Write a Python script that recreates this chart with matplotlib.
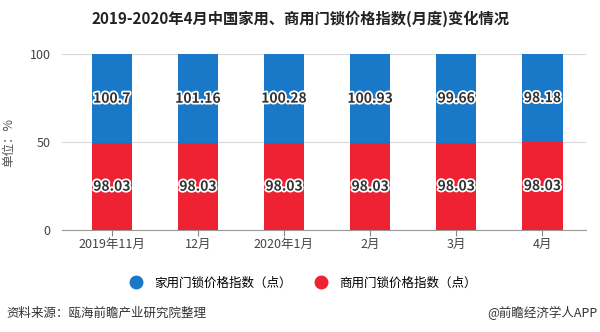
import numpy as np
import matplotlib.pyplot as plt
import matplotlib.patheffects as pe
from matplotlib.lines import Line2D

plt.rcParams['font.family'] = ['Noto Sans CJK SC', 'DejaVu Sans']

# 月份与两类门锁价格指数
months = ['2019年11月', '12月', '2020年1月', '2月', '3月', '4月']
home_index = [100.7, 101.16, 100.28, 100.93, 99.66, 98.18]
business_index = [98.03, 98.03, 98.03, 98.03, 98.03, 98.03]

blue = '#1a78c8'
red = '#ee2233'

home = np.array(home_index)
biz = np.array(business_index)
total = home + biz
biz_pct = biz / total * 100
home_pct = home / total * 100

fig = plt.figure(figsize=(6, 3.32), dpi=100)
ax = fig.add_axes([0.103, 0.307, 0.874, 0.53])

x = np.arange(len(months))
w = 0.47
ax.bar(x, biz_pct, width=w, color=red, zorder=3)
ax.bar(x, home_pct, width=w, bottom=biz_pct, color=blue, zorder=3)

# 数值标签（深色字白描边）
halo = [pe.withStroke(linewidth=2.5, foreground='white')]
for i in range(len(x)):
    ax.text(x[i], biz_pct[i] / 2, f'{business_index[i]:g}', ha='center', va='center',
            fontsize=10, fontweight='bold', color='#333333', path_effects=halo, zorder=4)
    ax.text(x[i], biz_pct[i] + home_pct[i] / 2, f'{home_index[i]:g}', ha='center', va='center',
            fontsize=10, fontweight='bold', color='#333333', path_effects=halo, zorder=4)

ax.set_xlim(-0.58, 5.51)
ax.set_ylim(0, 100)
ax.set_yticks([0, 50, 100])
ax.set_xticks(x)
ax.set_xticklabels(months)
ax.tick_params(axis='y', length=0, labelsize=9, colors='#444444', pad=8)
ax.tick_params(axis='x', length=4, color='#888888', labelsize=9, colors='#444444', pad=2)
ax.grid(axis='y', color='#d8d8d8', linewidth=0.8, zorder=0)
for s in ['top', 'right', 'left']:
    ax.spines[s].set_visible(False)
ax.spines['bottom'].set_color('#999999')
ax.set_ylabel('单位：%', fontsize=9, color='#555555', labelpad=10)

fig.text(0.5, 0.943, '2019-2020年4月中国家用、商用门锁价格指数(月度)变化情况',
         ha='center', va='center', fontsize=11, fontweight='bold', color='#222222')

handles = [Line2D([], [], marker='o', linestyle='', markersize=9, color=blue),
           Line2D([], [], marker='o', linestyle='', markersize=9, color=red)]
fig.legend(handles, ['家用门锁价格指数（点）', '商用门锁价格指数（点）'],
           loc='center', bbox_to_anchor=(0.5, 0.147), ncol=2, frameon=False,
           fontsize=9, handletextpad=0.4, columnspacing=1.4)

fig.text(0.01, 0.057, '资料来源：瓯海前瞻产业研究院整理', ha='left', va='center',
         fontsize=9, color='#333333')
fig.text(0.995, 0.057, '@前瞻经济学人APP', ha='right', va='center',
         fontsize=9, color='#333333')

plt.savefig('out.png', dpi=100)
